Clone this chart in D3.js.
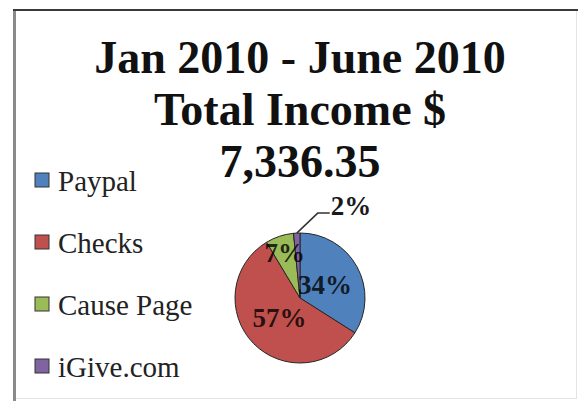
<!DOCTYPE html>
<html>
<head>
<meta charset="utf-8">
<script src="https://cdn.jsdelivr.net/npm/d3@7"></script>
<style>
  body { margin: 0; background: #fff; }
  text { font-family: "Liberation Serif", "Times New Roman", serif; }
</style>
</head>
<body>
<div id="chart"></div>
<script>
var svgWidth = 584;
var svgHeight = 401;

// data (share of total income, %)
var categories = ["Paypal", "Checks", "Cause Page", "iGive.com"];
var shares = [34.0, 57.4, 7.0, 1.6];
var colors = ["#4F81BD", "#C0504D", "#9BBB59", "#8064A2"];
var titleLines = ["Jan 2010 - June 2010", "Total Income $", "7,336.35"];

var svg = d3.select("#chart")
    .append("svg")
    .attr("width", svgWidth)
    .attr("height", svgHeight);

// frame
svg.append("rect")
    .attr("x", 14.5).attr("y", 10.5)
    .attr("width", 562).attr("height", 388)
    .attr("fill", "#fff")
    .attr("stroke", "#e4e4e4");
svg.append("line")
    .attr("x1", 14.5).attr("x2", 14.5).attr("y1", 9).attr("y2", svgHeight)
    .attr("stroke", "#8a8a8a").attr("stroke-width", 3);
svg.append("line")
    .attr("x1", 13).attr("x2", 578).attr("y1", 10).attr("y2", 10)
    .attr("stroke", "#3a3a3a").attr("stroke-width", 2);

// title
svg.append("g").selectAll("text")
    .data(titleLines)
    .enter()
    .append("text")
    .attr("x", 300)
    .attr("y", (d, i) => 73 + i * 52)
    .attr("text-anchor", "middle")
    .attr("font-size", 46)
    .attr("font-weight", "bold")
    .attr("fill", "#111")
    .text(d => d);

// legend
var legend = svg.append("g").selectAll("g")
    .data(categories)
    .enter()
    .append("g")
    .attr("transform", (d, i) => `translate(35, ${173 + i * 62})`);

legend.append("rect")
    .attr("width", 14).attr("height", 14)
    .attr("fill", (d, i) => colors[i])
    .attr("stroke", "#333")
    .attr("stroke-width", 1);

legend.append("text")
    .attr("x", 23)
    .attr("y", 18)
    .attr("font-size", 29)
    .attr("fill", "#222")
    .text(d => d);

// pie
var cx = 300, cy = 298, radius = 65;

var pie = d3.pie().sort(null).value(d => d);
var arcs = pie(shares);

var arc = d3.arc().innerRadius(0).outerRadius(radius);

var pieGroup = svg.append("g")
    .attr("transform", `translate(${cx}, ${cy})`);

pieGroup.selectAll("path")
    .data(arcs)
    .enter()
    .append("path")
    .attr("d", arc)
    .attr("fill", (d, i) => colors[i])
    .attr("stroke", "#262626")
    .attr("stroke-width", 1);

// inside labels (small slices sit further out)
function labelArc(d) {
    var span = d.endAngle - d.startAngle;
    var r = span < 0.6 ? radius * 0.74 : radius * 0.44;
    return d3.arc().innerRadius(r).outerRadius(r).centroid(d);
}

var fmt = v => Math.round(v) + "%";

pieGroup.selectAll("text.inside")
    .data(arcs.filter(d => d.value >= 5))
    .enter()
    .append("text")
    .attr("class", "inside")
    .attr("x", d => labelArc(d)[0])
    .attr("y", d => labelArc(d)[1])
    .attr("dy", "0.35em")
    .attr("text-anchor", "middle")
    .attr("font-size", 27)
    .attr("font-weight", "bold")
    .attr("fill", "#000")
    .attr("fill-opacity", 0.8)
    .text(d => fmt(d.value));

// outside label with leader line for the tiny slice
var small = arcs.filter(d => d.value < 5);
small.forEach(function(d) {
    var edge = d3.arc().innerRadius(radius).outerRadius(radius).centroid(d);
    var elbow = [edge[0] + 21, edge[1] - 20];
    var end = [elbow[0] + 12, elbow[1]];
    pieGroup.append("polyline")
        .attr("points", [edge, elbow, end].map(p => p.join(",")).join(" "))
        .attr("fill", "none")
        .attr("stroke", "#333")
        .attr("stroke-width", 1.5);
    pieGroup.append("text")
        .attr("x", end[0] + 1)
        .attr("y", end[1] + 2)
        .attr("font-size", 27)
        .attr("font-weight", "bold")
        .attr("fill", "#1a1a1a")
        .text(fmt(d.value));
});
</script>
</body>
</html>
